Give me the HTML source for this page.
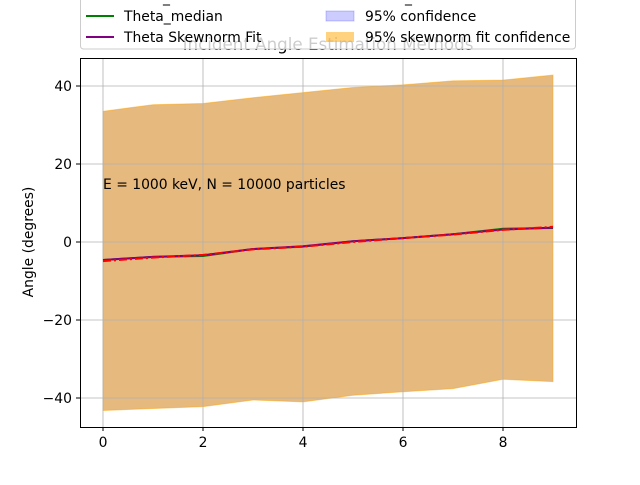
<!DOCTYPE html>
<html><head><meta charset="utf-8"><style>
body{margin:0;background:#fff}
svg{font-family:"DejaVu Sans","Liberation Sans",sans-serif}
</style></head><body>
<svg id="chart" width="640" height="480" viewBox="0 0 640 480" xmlns="http://www.w3.org/2000/svg">
<text x="328" y="50" font-size="16.7" text-anchor="middle" fill="#000">Incident Angle Estimation Methods</text>
<g id="plot"></g>
<rect x="80.5" y="58.5" width="496" height="369" fill="none" stroke="#000" stroke-width="1"/>
<text x="103" y="189" font-size="13.9">E = 1000 keV, N = 10000 particles</text>
<text transform="translate(33,242) rotate(-90)" font-size="13.9" text-anchor="middle">Angle (degrees)</text>
<g>
<rect x="80.5" y="-6" width="495" height="55" rx="3" fill="#fff" fill-opacity="0.8" stroke="#ccc"/>
<text x="163" y="2" font-size="13.9">_</text>
<text x="405" y="2" font-size="13.9">_</text>
<line x1="86" y1="16" x2="114" y2="16" stroke="green" stroke-width="2"/>
<text x="124" y="21" font-size="13.9">Theta_median</text>
<line x1="86" y1="37" x2="114" y2="37" stroke="purple" stroke-width="2"/>
<text x="124" y="42" font-size="13.9">Theta Skewnorm Fit</text>
<rect x="326" y="11" width="28" height="10" fill="#0000ff" fill-opacity="0.2" stroke="#0000ff" stroke-opacity="0.2"/>
<text x="365" y="21" font-size="13.9">95% confidence</text>
<rect x="326" y="32" width="28" height="10" fill="orange" fill-opacity="0.5"/>
<text x="365" y="42" font-size="13.9">95% skewnorm fit confidence</text>
</g>
</svg>
<script>
const xs=[0,1,2,3,4,5,6,7,8,9];
const upper=[33.5,35.2,35.5,37,38.3,39.6,40.3,41.3,41.5,42.8];
const lower=[-43.2,-42.7,-42.2,-40.5,-41,-39.3,-38.4,-37.6,-35.2,-35.8];
const median=[-4.6,-3.8,-3.6,-1.8,-1.2,0.2,1.0,2.0,3.4,3.6];
const skew=[-4.6,-3.8,-3.4,-1.8,-1.1,0.2,1.0,2.0,3.2,3.7];
const mean=[-4.9,-4.0,-3.3,-1.9,-1.2,0.0,1.0,1.9,3.1,3.9];
const xTicks=[0,2,4,6,8];
const yTicks=[-40,-20,0,20,40];
const X=v=>103+v*50, Y=v=>242-v*3.9;
const NS="http://www.w3.org/2000/svg", g=document.getElementById('plot');
function mk(t,a){const e=document.createElementNS(NS,t);for(const k in a)e.setAttribute(k,a[k]);g.appendChild(e);return e;}
let d=xs.map((x,i)=>(i?'L':'M')+X(x)+','+Y(upper[i])).join('')+xs.slice().reverse().map((x,j)=>{const i=xs.length-1-j;return 'L'+X(x)+','+Y(lower[i]);}).join('')+'Z';
let b=mk('path',{d:d,fill:'#0000ff','fill-opacity':0.2});


let o=mk('path',{d:d,fill:'orange','fill-opacity':0.5,stroke:'orange','stroke-opacity':0.5});


xTicks.forEach(t=>{const l=mk('line',{x1:X(t),x2:X(t),y1:58,y2:427,stroke:'#b0b0b0','stroke-width':0.8});


mk('line',{x1:X(t),x2:X(t),y1:427,y2:431,stroke:'#000'});
const tx=mk('text',{x:X(t),y:447,'font-size':13.9,'text-anchor':'middle'});tx.textContent=t;

});
yTicks.forEach(t=>{const l=mk('line',{x1:80,x2:576,y1:Y(t),y2:Y(t),stroke:'#b0b0b0','stroke-width':0.8});


mk('line',{x1:76,x2:80,y1:Y(t),y2:Y(t),stroke:'#000'});
const tx=mk('text',{x:72,y:Y(t)+5,'font-size':13.9,'text-anchor':'end'});tx.textContent=String(t).replace('-','\u2212');

});
function line(arr,col,w,dash,name){const p=mk('polyline',{points:xs.map((x,i)=>X(x)+','+Y(arr[i])).join(' '),fill:'none',stroke:col,'stroke-width':w});if(dash)p.setAttribute('stroke-dasharray',dash);

}
line(median,'green',2,null,'median-line');
line(skew,'purple',2,null,'skewnorm-line');
line(mean,'red',2,'8,3,2,3','mean-line');
</script>
</body></html>
